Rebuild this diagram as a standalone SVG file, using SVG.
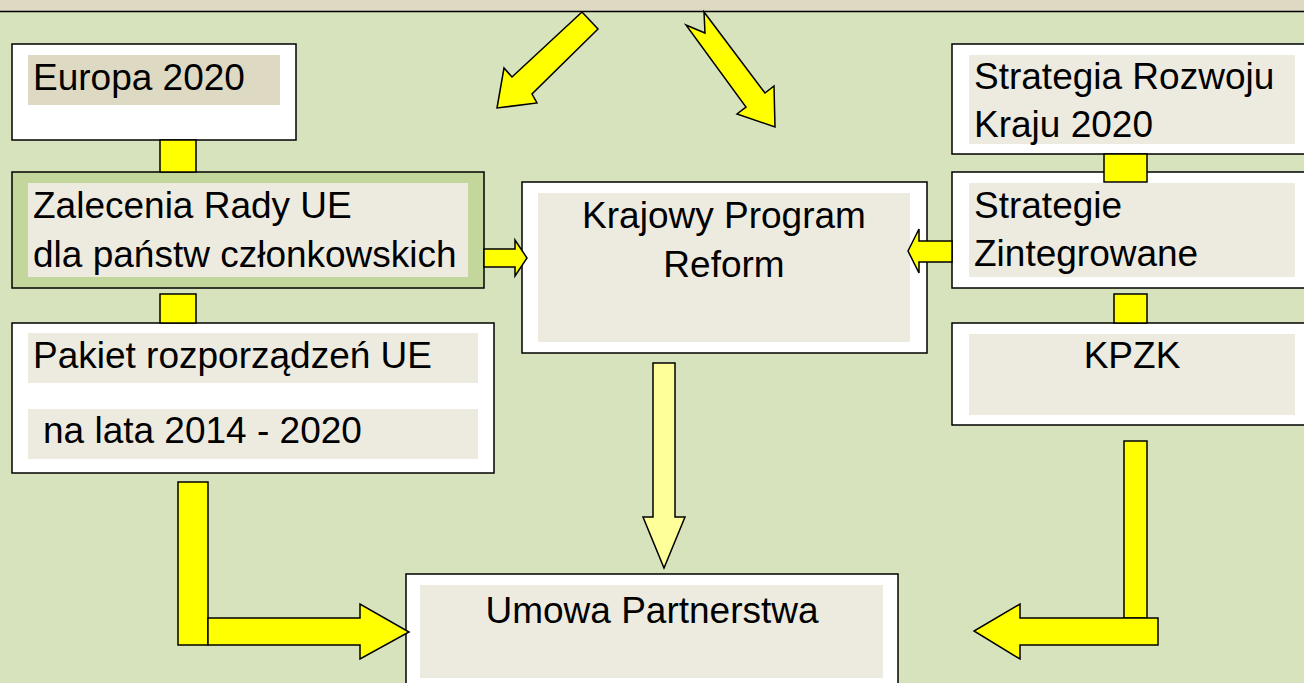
<svg xmlns="http://www.w3.org/2000/svg" width="1304" height="683" viewBox="0 0 1304 683">
<defs>
<style>
.box{fill:#FFFFFF;stroke:#000;stroke-width:1.5}
.boxg{fill:#C3D69B;stroke:#000;stroke-width:1.5}
.in{fill:#EDEBE0}
.inb{fill:#DDD9C3}
.y{fill:#FFFF00;stroke:#000;stroke-width:1.5;stroke-linejoin:miter}
.ly{fill:#FFFF99;stroke:#000;stroke-width:1.5}
text{font-family:"Liberation Sans",Arial,sans-serif;font-size:37px;fill:#000}
.c{text-anchor:middle}
</style>
</defs>
<rect x="0" y="0" width="1304" height="683" fill="#D7E3BD"/>
<rect x="0" y="0" width="1304" height="12" fill="#DDD9C3"/>
<line x1="0" y1="11.5" x2="1304" y2="11.5" stroke="#000" stroke-width="1.5"/>

<g id="europa">
<rect class="box" x="12" y="44" width="284" height="96"/>
<rect class="inb" x="28" y="55" width="252" height="50"/>
<text x="33" y="90">Europa 2020</text>
</g>

<g id="zalecenia">
<rect class="boxg" x="12" y="172" width="472" height="116"/>
<rect class="in" x="28" y="183" width="440" height="94"/>
<text x="33" y="218">Zalecenia Rady UE</text>
<text x="33" y="267">dla państw członkowskich</text>
</g>

<g id="pakiet">
<rect class="box" x="12" y="323" width="482" height="150"/>
<rect class="in" x="28" y="333" width="450" height="50"/>
<rect class="in" x="28" y="409" width="450" height="50"/>
<text x="33" y="368">Pakiet rozporządzeń UE</text>
<text x="43" y="443">na lata 2014 - 2020</text>
</g>

<g id="krajowy">
<rect class="box" x="522" y="182" width="405" height="171"/>
<rect class="in" x="538" y="193" width="372" height="149"/>
<text class="c" x="724" y="228">Krajowy Program</text>
<text class="c" x="724" y="277">Reform</text>
</g>

<g id="strategia">
<rect class="box" x="952" y="44" width="360" height="110"/>
<rect class="in" x="969" y="55" width="326" height="89"/>
<text x="974" y="89">Strategia Rozwoju</text>
<text x="974" y="137">Kraju 2020</text>
</g>

<g id="strategie">
<rect class="box" x="952" y="172" width="360" height="116"/>
<rect class="in" x="969" y="183" width="326" height="94"/>
<text x="974" y="218">Strategie</text>
<text x="974" y="266">Zintegrowane</text>
</g>

<g id="kpzk">
<rect class="box" x="952" y="323" width="360" height="102"/>
<rect class="in" x="969" y="334" width="326" height="81"/>
<text class="c" x="1132" y="368">KPZK</text>
</g>

<g id="umowa">
<rect class="box" x="406" y="574" width="492" height="120"/>
<rect class="in" x="420" y="585" width="463" height="93"/>
<text class="c" x="652" y="623">Umowa Partnerstwa</text>
</g>

<g id="connectors">
<polygon class="y" points="582,12 598,29 532,94 537,103 497,108 504,68 512,77"/>
<polygon class="y" points="704,12 705,33 686,25 746,107 737,114 775,127 774,86 765,93"/>
<rect class="y" x="160" y="140" width="36" height="32"/>
<rect class="y" x="160" y="294" width="36" height="29"/>
<rect class="y" x="1104" y="154" width="43" height="28"/>
<rect class="y" x="1114" y="294" width="33" height="29"/>
<polygon class="y" points="484,249 515,249 515,240 527,258 515,276 515,267 484,267"/>
<polygon class="y" points="952,241 919,241 919,229 908,251 919,273 919,262 952,262"/>
<polygon class="ly" points="653,363 675,363 675,517 685,517 664,568 643,517 653,517"/>
<rect class="y" x="178" y="482" width="30" height="163"/>
<polygon class="y" points="208,618 360,618 360,604 409,632 360,659 360,645 208,645"/>
<rect class="y" x="1124" y="441" width="23" height="177"/>
<polygon class="y" points="1158,618 1020,618 1020,604 974,631 1020,659 1020,645 1158,645"/>
</g>
</svg>
